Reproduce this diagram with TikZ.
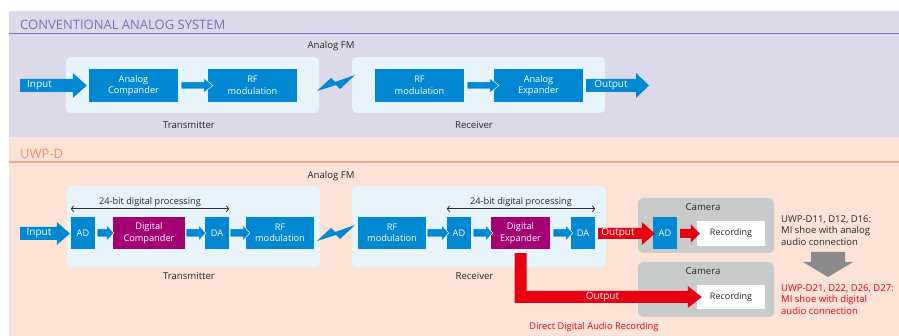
\documentclass[tikz,border=0pt]{standalone}
\usepackage{fontspec}
\setmainfont{Open Sans}
\usetikzlibrary{arrows.meta,calc}
\definecolor{bandA}{RGB}{220,217,235}
\definecolor{bandB}{RGB}{253,227,214}
\definecolor{titleA}{RGB}{126,112,180}
\definecolor{lineA}{RGB}{128,110,190}
\definecolor{titleB}{RGB}{240,140,105}
\definecolor{lineB}{RGB}{243,165,135}
\definecolor{panelc}{RGB}{232,244,252}
\definecolor{sblue}{RGB}{0,136,210}
\definecolor{smag}{RGB}{163,0,115}
\definecolor{sred}{RGB}{230,0,18}
\definecolor{camgray}{RGB}{201,202,202}
\definecolor{darrow}{RGB}{138,138,138}
\definecolor{txt}{RGB}{40,40,40}
\newcommand\myfs[2]{\fontsize{#1}{#2}\selectfont}
% block arrow: #1 start, #2 end (tip), #3 body half, #4 head half, #5 head length, #6 style
\newcommand\barr[6]{\path[#6] let \p1=(#1), \p2=(#2) in
  (\x1,\y1+#3) -- (\x2-#5,\y1+#3) -- (\x2-#5,\y1+#4) -- (\x2,\y1)
  -- (\x2-#5,\y1-#4) -- (\x2-#5,\y1-#3) -- (\x1,\y1-#3) -- cycle;}
\tikzset{
  titletxt/.style={anchor=west, inner sep=0pt, font=\myfs{13}{15}},
  panelbox/.style={fill=panelc, rounded corners=5pt, inner sep=0pt},
  cambox/.style={fill=camgray, rounded corners=5pt, inner sep=0pt},
  blk/.style={fill=sblue, text=white, inner sep=0pt, align=center, font=\myfs{9.2}{11.5}},
  magblk/.style={blk, fill=smag},
  recblk/.style={fill=white, text=txt, inner sep=0pt, font=\myfs{9}{11}},
  lbl/.style={text=txt, inner sep=0pt, font=\myfs{9.6}{11}},
  wtxt/.style={text=white, inner sep=0pt, font=\myfs{10}{12}},
  bluearr/.style={fill=sblue, draw=white, line width=0.5pt},
  bigblue/.style={fill=sblue},
  redarr/.style={fill=sred},
  dimline/.style={draw=txt, line width=0.7pt, {Straight Barb[length=2.5pt,width=6pt]}-{Straight Barb[length=2.5pt,width=6pt]}},
  note/.style={anchor=north west, inner sep=0pt, align=left, font=\myfs{9.5}{11.5}}
}
\begin{document}
\begin{tikzpicture}[x=1pt,y=-1pt]
\useasboundingbox (0,0) rectangle (899,336);
\fill[white] (0,0) rectangle (899,336);
% bands
\fill[bandA] (9,11) rectangle (899,137.5);
\fill[bandB] (9,137.5) rectangle (899,336);
\draw[lineA, line width=1pt] (9,34) -- (899,34);
\draw[lineB, line width=1.3pt] (9,162) -- (899,162);
\node[titletxt, text=titleA] (ttlA) at (20,25) {CONVENTIONAL ANALOG SYSTEM};
\node[titletxt, text=titleB] (ttlB) at (20,153.5) {UWP-D};

% ---------- conventional analog system ----------
\node[panelbox, minimum width=253, minimum height=56] (txA) at (192.5,85) {};
\node[panelbox, minimum width=253, minimum height=56] (rxA) at (478.5,85) {};
\node[lbl] (afmA) at (331,46) {Analog FM};
\node[lbl] (txlblA) at (189,125) {Transmitter};
\node[lbl] (rxlblA) at (474,125) {Receiver};

\node[blk, minimum width=89, minimum height=33] (acomp) at (133.5,85.5) {Analog\\Compander};
\node[blk, minimum width=89, minimum height=33] (rf1) at (252.5,85.5) {RF\\modulation};
\node[blk, minimum width=89, minimum height=33] (rf2) at (419.5,85.5) {RF\\modulation};
\node[blk, minimum width=89, minimum height=33] (aexp) at (538.5,85.5) {Analog\\Expander};

\coordinate (inA) at (20,85.5);
\coordinate (outA) at (649,85.5);
\barr{inA}{$(acomp.west)+(-2,0)$}{6.5pt}{12.5pt}{14pt}{bigblue}
\node[wtxt] (inlblA) at (39.5,85.5) {Input};
\barr{$(acomp.east)+(3,0)$}{$(rf1.west)+(5,0)$}{3.5pt}{7.5pt}{9pt}{bluearr}
\barr{$(rf2.east)+(3,0)$}{$(aexp.west)+(5,0)$}{3.5pt}{7.5pt}{9pt}{bluearr}
\barr{$(aexp.east)+(3,0)$}{outA}{6.5pt}{12.5pt}{13pt}{bigblue}
\node[wtxt] (outlblA) at (611,85.5) {Output};
% lightning
\fill[sblue] (317,91) -- (331,78) -- (335,82) -- (355,75) -- (340,89) -- (336,85) -- cycle;

% ---------- UWP-D ----------
\node[panelbox, minimum width=253, minimum height=81] (txB) at (193.5,226.5) {};
\node[panelbox, minimum width=254, minimum height=81] (rxB) at (479,226.5) {};
\node[cambox, minimum width=136, minimum height=55] (cam1) at (706,225.5) {};
\node[cambox, minimum width=136, minimum height=55] (cam2) at (706,289.5) {};
\node[lbl] (afmB) at (331,176) {Analog FM};
\node[lbl] (txlblB) at (189,276.5) {Transmitter};
\node[lbl] (rxlblB) at (474.5,276.5) {Receiver};
\node[lbl] (camlbl1) at (703,207.5) {Camera};
\node[lbl] (camlbl2) at (703,271) {Camera};

\node[blk, minimum width=24, minimum height=32] (ad1) at (83,233) {AD};
\node[magblk, minimum width=72, minimum height=32] (dcomp) at (149,233) {Digital\\Compander};
\node[blk, minimum width=24, minimum height=32] (da1) at (217,233) {DA};
\node[blk, minimum width=68, minimum height=32] (rf3) at (280,233) {RF\\modulation};
\node[blk, minimum width=68, minimum height=32] (rf4) at (392,233) {RF\\modulation};
\node[blk, minimum width=24, minimum height=32] (ad2) at (459,233) {AD};
\node[magblk, minimum width=59, minimum height=32] (dexp) at (520.5,233) {Digital\\Expander};
\node[blk, minimum width=24, minimum height=32] (da2) at (583,233) {DA};
\node[blk, minimum width=24, minimum height=32] (ad3) at (665,233) {AD};
\node[recblk, minimum width=68, minimum height=25] (rec1) at (731,233.5) {Recording};
\node[recblk, minimum width=68, minimum height=24] (rec2) at (731,297) {Recording};

% 24-bit processing spans
\draw[dimline] ([yshift=8pt]ad1.north west) -- ([yshift=8pt]da1.north east)
  node[midway, above=1.8pt, inner sep=0pt, text=txt, font=\myfs{9.2}{11}] (bitA) {24-bit digital processing};
\draw[dimline] ([yshift=8pt]ad2.north west) -- ([yshift=8pt]da2.north east)
  node[midway, above=1.8pt, inner sep=0pt, text=txt, font=\myfs{9.2}{11}] (bitB) {24-bit digital processing};

\coordinate (inB) at (20,233.5);
\barr{inB}{$(ad1.west)+(-1,0.5)$}{6.5pt}{11.5pt}{13pt}{bigblue}
\node[wtxt] (inlblB) at (39,233.5) {Input};
\barr{$(ad1.east)+(2,0)$}{$(dcomp.west)+(1,0)$}{4pt}{8pt}{7pt}{bluearr}
\barr{$(dcomp.east)+(1,0)$}{$(da1.west)+(1,0)$}{4pt}{8pt}{7pt}{bluearr}
\barr{$(da1.east)+(1,0)$}{$(rf3.west)+(4,0)$}{4pt}{8pt}{7pt}{bluearr}
\barr{$(rf4.east)+(1,0)$}{$(ad2.west)+(2,0)$}{4pt}{8pt}{7pt}{bluearr}
\barr{$(ad2.east)+(2,0)$}{$(dexp.west)+(2,0)$}{4pt}{8pt}{7pt}{bluearr}
\barr{$(dexp.east)+(3,0)$}{$(da2.west)+(2,0)$}{4pt}{8pt}{7pt}{bluearr}
% lightning
\fill[sblue] (317,241) -- (331,228) -- (335,232) -- (355,225) -- (340,239) -- (336,235) -- cycle;

% red outputs
\barr{$(da2.east)+(3,0.5)$}{$(ad3.west)+(2,0.5)$}{5.5pt}{11.5pt}{13pt}{redarr}
\node[wtxt] (outlblB) at (618,233.5) {Output};
\barr{$(ad3.east)+(3,0.5)$}{$(rec1.west)+(3,0)$}{4.5pt}{9pt}{9pt}{redarr}
\path[fill=sred] let \p1=(dexp.south), \p2=(rec2.west) in
  (\x1-6pt,\y1-4pt) -- (\x1+6pt,\y1-4pt) -- (\x1+6pt,\y2+6pt) -- (\x2-9pt,\y2+6pt)
  -- (\x2-9pt,\y2+11pt) -- (\x2+5pt,\y2) -- (\x2-9pt,\y2-11pt) -- (\x2-9pt,\y2-6pt)
  -- (\x1-6pt,\y2-6pt) -- cycle;
\node[wtxt] (outlblC) at (602.5,297) {Output};
\node[text=sred, inner sep=0pt, font=\myfs{9.3}{11}] (direct) at (594,327) {Direct Digital Audio Recording};

% notes on the right
\node[note, text=txt] (noteA) at (781,215) {UWP-D11, D12, D16:\\MI shoe with analog\\audio connection};
\node[note, text=sred] (noteB) at (781,284) {UWP-D21, D22, D26, D27:\\MI shoe with digital\\audio connection};
\fill[darrow] (811,252) -- (845,252) -- (845,262) -- (853,262) -- (828,277) -- (803,262) -- (811,262) -- cycle;
\end{tikzpicture}
\end{document}
